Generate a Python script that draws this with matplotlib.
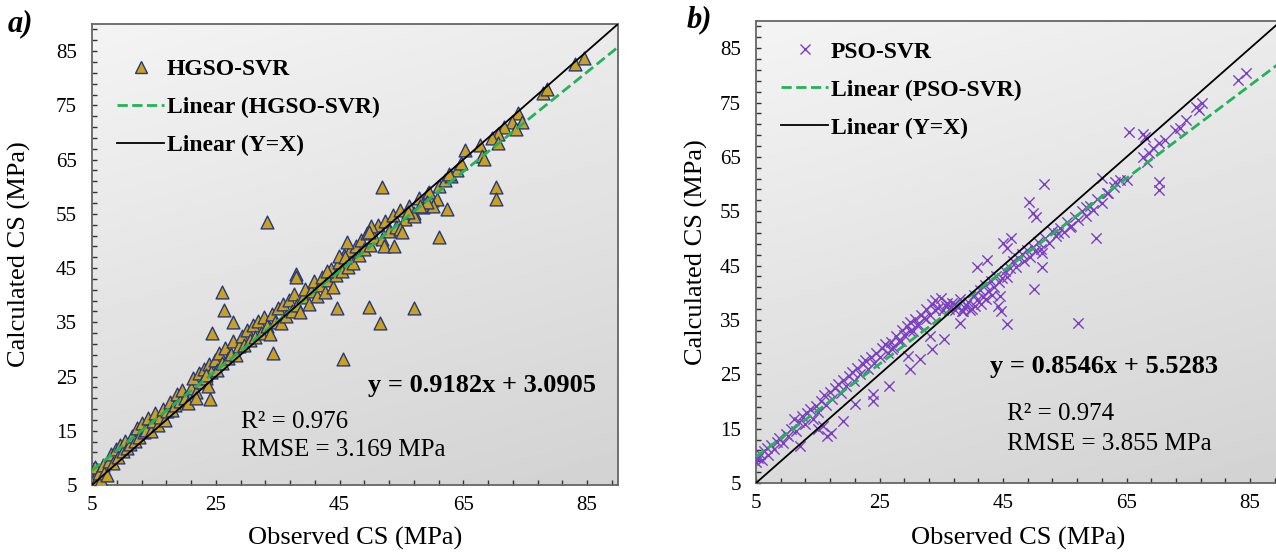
import numpy as np
import matplotlib
matplotlib.use('Agg')
import matplotlib.pyplot as plt
from matplotlib.lines import Line2D

plt.rcParams['font.family'] = ['Liberation Serif', 'DejaVu Serif']

# ---- data ----
hgso_obs = [5.2, 5.5, 5.8, 6.1, 6.5, 6.8, 7.0, 7.4, 7.8, 8.1, 8.4, 8.8, 9.2, 9.6, 10.0, 10.3, 10.7,
            11.1, 11.5, 11.9, 12.3, 12.6, 13.0, 13.4, 13.8, 14.1, 14.5, 14.9, 15.2, 15.6, 16.0, 16.4,
            16.8, 17.2, 17.6, 18.0, 18.4, 18.8, 19.2, 19.6, 20.0, 20.5, 21.0, 21.4, 21.8, 22.3, 22.7,
            23.1, 23.5, 23.9, 24.3, 24.8, 25.2, 25.6, 26.0, 26.5, 26.9, 27.4, 27.8, 28.3, 28.7, 29.2,
            29.6, 30.1, 30.5, 31.0, 31.4, 31.9, 32.3, 32.8, 33.2, 33.7, 34.1, 34.6, 35.0, 35.5, 35.9,
            36.4, 36.8, 37.3, 37.7, 38.2, 38.6, 39.1, 39.5, 40.0, 40.4, 40.9, 41.3, 41.8, 42.2, 42.7,
            43.1, 43.6, 44.0, 44.5, 44.9, 45.4, 45.8, 46.3, 46.7, 47.2, 47.6, 48.1, 48.5, 49.0, 49.5,
            50.0, 50.6, 51.2, 51.8, 52.4, 53.0, 53.6, 54.2, 54.8, 55.5, 56.2, 57.0, 57.8, 58.5, 59.3,
            60.0, 61.0, 62.0, 63.0, 64.0,
            83.0, 84.5, 77.9, 78.5, 73.8, 72.9, 74.5, 73.5, 71.6, 70.6, 69.6, 70.6, 70.3, 70.3,
            65.3, 64.6, 67.7, 68.0, 68.3, 62.7, 62.4, 61.1, 59.4, 60.7, 60.1, 59.1, 57.0, 58.0, 56.1,
            51.8, 33.3, 38.0, 46.2, 50.1, 49.8, 44.9, 45.9, 52.2, 53.8, 54.8, 55.1, 43.0,
            38.0, 44.6, 49.8, 51.5, 57.0, 45.5, 26.0, 26.3, 27.8, 24.4, 34.2, 24.1, 23.7, 23.4, 21.8]
hgso_calc = [5.8, 8.3, 6.1, 7.2, 5.9, 8.6, 7.3, 6.8, 9.5, 10.8, 9.0, 11.6, 10.1, 12.3, 11.2, 13.1, 11.9,
             12.6, 14.0, 13.2, 15.6, 13.8, 16.4, 14.7, 15.2, 17.3, 14.9, 16.8, 18.2, 16.1, 17.5, 19.1,
             17.0, 18.6, 20.3, 18.9, 19.7, 21.8, 20.4, 22.6, 21.1, 20.2, 22.8, 24.7, 22.1, 25.6, 23.9,
             26.4, 24.8, 27.3, 25.9, 28.1, 26.2, 29.4, 27.5, 30.2, 28.4, 29.1, 31.5, 28.9, 30.6, 32.4,
             30.9, 33.6, 31.8, 34.5, 32.3, 35.2, 33.1, 35.9, 34.4, 32.9, 36.5, 35.1, 37.6, 34.8, 38.3,
             36.2, 39.1, 37.0, 40.2, 38.1, 36.9, 39.6, 41.2, 38.4, 40.7, 42.6, 39.8, 41.9, 43.4, 40.6,
             42.8, 44.9, 41.5, 43.7, 46.2, 44.4, 47.5, 45.2, 48.3, 46.0, 49.1, 47.4, 50.2, 48.6, 51.5,
             49.2, 50.8, 52.9, 50.4, 53.7, 51.9, 54.8, 52.6, 55.7, 54.1, 56.4, 55.2, 57.9, 56.3, 58.8,
             57.5, 60.1, 61.3, 62.0, 63.1,
             82.6, 83.7, 77.2, 78.1, 73.5, 72.0, 72.0, 70.7, 71.1, 69.8, 68.9, 68.0, 60.0, 57.8,
             66.7, 64.3, 67.6, 65.7, 65.2, 62.4, 55.9, 50.7, 59.1, 57.8, 56.5, 57.2, 54.6, 56.5, 55.4,
             60.0, 53.5, 43.9, 49.8, 52.8, 51.7, 47.2, 47.0, 49.1, 49.1, 52.2, 51.7, 44.4,
             43.3, 37.6, 37.8, 34.8, 37.6, 28.3, 40.6, 37.2, 35.0, 33.1, 29.4, 20.9, 23.3, 25.2, 21.1]

pso_obs = [5.0, 5.3, 5.6, 5.9, 6.3, 6.7, 7.0, 7.5, 7.9, 8.4, 8.8, 9.3, 9.8, 10.2, 10.7, 11.1, 11.5,
           12.0, 12.4, 12.9, 13.3, 13.8, 14.2, 14.7, 15.1, 15.6, 16.0, 16.4, 16.9, 17.3, 17.8, 18.2,
           18.7, 19.1, 19.6, 20.0, 20.5, 20.9, 21.4, 21.8, 22.3, 22.7, 23.2, 23.6, 24.1, 24.5, 25.0,
           25.4, 25.9, 26.3, 26.8, 27.2, 27.7, 28.1, 28.6, 29.0, 29.5, 29.9, 30.4, 30.8, 31.3, 31.7,
           32.2, 32.6, 33.1, 33.5, 34.0, 34.4, 34.9, 35.3, 35.8, 36.3, 36.7, 37.2, 37.6, 38.1, 38.5,
           39.0, 39.4, 39.9, 40.3, 40.8, 41.2, 41.7, 42.1, 42.6, 43.0, 43.5, 43.9, 44.4, 44.8, 45.3,
           45.7, 46.2, 46.6, 47.1, 47.5, 48.0, 48.4, 48.9, 49.3, 49.8, 50.2, 50.7, 51.1, 51.8, 52.4,
           53.0, 53.6, 54.2, 54.8, 55.4, 56.0, 56.6, 57.2, 57.8, 58.4, 59.0, 59.6, 60.2, 61.0, 62.0,
           63.0, 64.0,
           83.0, 84.3, 76.2, 77.2, 76.8, 73.6, 74.6, 72.8, 70.2, 71.2, 69.2, 68.6, 67.6, 68.3,
           65.4, 67.6, 68.0, 70.2, 70.2, 65.0, 63.1, 61.0, 60.0, 51.6, 49.2, 49.8, 50.3, 45.0, 45.6,
           46.3, 40.8, 42.4, 58.4, 55.8, 53.9, 51.3, 51.3, 61.8,
           50.0, 44.6, 45.6, 57.1, 38.0, 38.3, 35.4, 33.5, 31.5, 29.9, 29.6, 33.2, 26.5, 23.9, 23.9,
           21.0, 19.1, 17.1, 16.5, 15.8, 15.0, 12.1, 44.5, 44.2,
           36.0, 37.0, 38.6, 39.6, 40.5, 41.5, 42.3, 43.2, 27.0, 28.5, 30.0, 31.0, 32.5, 34.0]
pso_calc = [8.9, 9.6, 10.4, 9.2, 10.9, 11.5, 10.1, 12.0, 11.2, 12.6, 13.3, 12.4, 14.1, 13.6, 15.0, 16.8, 14.5,
            16.2, 17.3, 15.9, 17.8, 18.6, 16.7, 19.2, 18.1, 20.0, 21.2, 19.4, 21.8, 20.5, 22.4, 23.3,
            21.6, 23.9, 22.8, 24.6, 25.5, 23.7, 26.1, 25.0, 26.9, 27.6, 25.9, 28.2, 27.1, 29.0, 28.1,
            29.8, 30.5, 28.9, 31.0, 30.1, 32.0, 31.2, 33.1, 32.2, 33.8, 34.6, 33.0, 35.1, 34.2, 36.0,
            35.3, 37.1, 36.0, 37.9, 38.6, 37.2, 39.1, 36.9, 37.6, 37.0, 38.2, 36.8, 37.5, 38.9, 36.6,
            37.8, 38.3, 37.1, 39.5, 38.7, 40.6, 39.2, 41.4, 40.3, 42.2, 41.0, 43.1, 41.9, 42.7, 44.0,
            42.9, 44.6, 45.9, 44.8, 46.4, 47.2, 45.8, 47.9, 46.6, 48.4, 47.6, 49.3, 48.1, 50.0, 49.2,
            51.3, 50.4, 52.0, 51.2, 53.1, 52.3, 54.0, 53.3, 55.1, 54.2, 56.0, 55.3, 57.2, 56.6, 58.4,
            59.5, 60.7,
            79.1, 80.4, 74.1, 74.9, 73.6, 70.4, 71.7, 69.9, 67.5, 68.1, 66.6, 65.7, 64.9, 64.0,
            69.5, 69.3, 68.6, 60.3, 58.9, 60.7, 60.3, 61.2, 50.0, 60.1, 56.7, 54.6, 53.9, 49.1, 48.2,
            50.0, 44.7, 46.0, 55.7, 52.1, 51.0, 47.3, 44.7, 58.3,
            40.7, 36.6, 34.2, 34.4, 34.4, 36.6, 31.5, 29.6, 27.8, 26.0, 28.4, 32.0, 22.8, 21.4, 20.1,
            19.5, 16.4, 14.2, 13.6, 15.5, 14.9, 11.8, 39.4, 37.5,
            38.1, 37.9, 37.3, 36.9, 37.6, 38.0, 38.9, 39.6, 29.6, 31.2, 32.9, 34.1, 35.2, 36.8]

hgso_fit = (0.9182, 3.0905)
pso_fit = (0.8546, 5.5283)
lims = (5, 90)

fig = plt.figure(figsize=(12.76, 5.52), dpi=100)
W, H = 1276, 552
ax1 = fig.add_axes([92 / W, (H - 485) / H, 526 / W, 461 / H])
ax2 = fig.add_axes([756 / W, (H - 483) / H, 525 / W, 462 / H])

# grey gradient background
g = np.linspace(0, 1, 200)
gx, gy = np.meshgrid(g, g)
shade = 0.955 - 0.13 * (0.75 * gy + 0.25 * gx)
for ax in (ax1, ax2):
    ax.imshow(shade, cmap='gray', vmin=0, vmax=1, extent=[0, 1, 0, 1],
              transform=ax.transAxes, aspect='auto', zorder=0, origin='upper')

green = '#22b35a'
xx = np.array(lims)

ax1.scatter(hgso_obs, hgso_calc, marker='^', s=85, facecolor='#c9a020',
            edgecolor='#283a78', linewidth=1.0, zorder=3)
ax1.plot(xx, hgso_fit[0] * xx + hgso_fit[1], '--', color=green, lw=2.0, zorder=4)
ax1.plot(xx, xx, '-', color='black', lw=1.3, zorder=5)

ax2.scatter(pso_obs, pso_calc, marker='x', s=55, color='#7a3fc0', linewidth=1.0, zorder=3)
ax2.plot(xx, pso_fit[0] * xx + pso_fit[1], '--', color=green, lw=2.0, zorder=4)
ax2.plot(xx, xx, '-', color='black', lw=1.3, zorder=5)

for ax in (ax1, ax2):
    ax.set_xlim(lims)
    ax.set_ylim(lims)
    ax.set_xticks(np.arange(5, 90, 20))
    ax.set_yticks(np.arange(5, 90, 10))
    ax.set_xticks(np.arange(5, 90.1, 4), minor=True)
    ax.set_yticks(np.arange(5, 90.1, 2), minor=True)
    ax.tick_params(which='both', direction='in', length=3.5, width=1.0, color='#333333',
                   labelsize=15)
    ax.tick_params(axis='x', pad=8)
    ax.tick_params(axis='y', pad=11)
    for sp in ax.spines.values():
        sp.set_color('#666666')
        sp.set_linewidth(1.3)
    ax.set_xlabel('Observed CS (MPa)', fontsize=19)
    ax.set_ylabel('Calculated CS (MPa)', fontsize=19)
    ax.xaxis.label.set_va('center')
    ax.yaxis.label.set_va('center')

ax1.xaxis.set_label_coords(0.5, -0.117)
ax1.yaxis.set_label_coords(-0.137, 0.5)
ax2.xaxis.set_label_coords(0.5, -0.119)
ax2.yaxis.set_label_coords(-0.114, 0.5)

# legends
def add_legend(ax, name, marker_handle, anchor):
    handles = [marker_handle,
               Line2D([], [], ls='--', color=green, lw=2.0),
               Line2D([], [], ls='-', color='black', lw=1.3)]
    labels = [name, 'Linear (%s)' % name, 'Linear (Y=X)']
    ax.legend(handles, labels, loc='upper left', bbox_to_anchor=anchor, frameon=False,
              prop={'weight': 'bold', 'size': 17}, handlelength=2.0, handletextpad=0.1,
              labelspacing=0.7, borderaxespad=0)

add_legend(ax1, 'HGSO-SVR',
           Line2D([], [], ls='', marker='^', ms=8, mfc='#c9a020', mec='#283a78', mew=1.0),
           (0.03, 0.946))
add_legend(ax2, 'PSO-SVR',
           Line2D([], [], ls='', marker='x', ms=7, color='#7a3fc0', mew=1.0),
           (0.03, 0.977))

ax1.text(86.5, 23.3, 'y = 0.9182x + 3.0905', ha='right', va='center', fontsize=19,
         fontweight='bold', zorder=6)
ax1.text(29.1, 16.7, 'R² = 0.976', ha='left', va='center', fontsize=18, zorder=6)
ax1.text(29.1, 11.5, 'RMSE = 3.169 MPa', ha='left', va='center', fontsize=18, zorder=6)

ax2.text(79.8, 26.5, 'y = 0.8546x + 5.5283', ha='right', va='center', fontsize=19,
         fontweight='bold', zorder=6)
ax2.text(45.6, 17.7, 'R² = 0.974', ha='left', va='center', fontsize=18, zorder=6)
ax2.text(45.6, 12.2, 'RMSE = 3.855 MPa', ha='left', va='center', fontsize=18, zorder=6)

fig.text(8 / W, 1 - 24 / H, 'a)', fontsize=22, fontweight='bold', fontstyle='italic',
         ha='left', va='center')
fig.text(687 / W, 1 - 20 / H, 'b)', fontsize=22, fontweight='bold', fontstyle='italic',
         ha='left', va='center')

fig.savefig('out.png', dpi=100)
